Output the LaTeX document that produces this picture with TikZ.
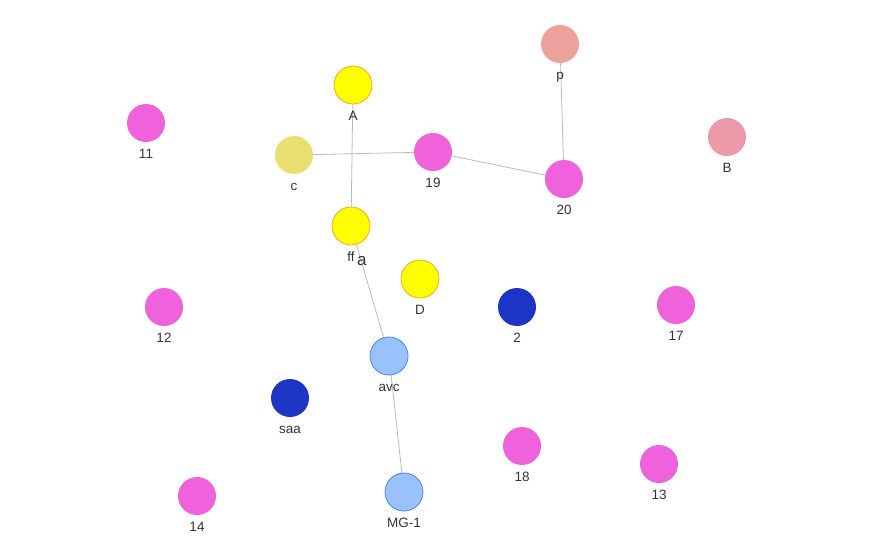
\documentclass[tikz,border=0pt]{standalone}
\usepackage{fontspec}
\setmainfont{Liberation Sans}
\usetikzlibrary{backgrounds}

\definecolor{pinkv}{HTML}{F062DB}
\definecolor{yelv}{HTML}{FFFF00}
\definecolor{yelrim}{HTML}{F5A623}
\definecolor{khakiv}{HTML}{E8DF70}
\definecolor{salmonv}{HTML}{EDA39D}
\definecolor{rosev}{HTML}{EC9AA8}
\definecolor{navyv}{HTML}{1D35C4}
\definecolor{skyv}{HTML}{99C2FA}
\definecolor{skyrim}{HTML}{4A86E8}
\definecolor{txt}{HTML}{333333}
\definecolor{edgev}{HTML}{BBBBBB}

\tikzset{
  vtx/.style={circle, minimum size=38pt, inner sep=0pt},
  lbl/.style={anchor=base, inner sep=0pt, label distance=16pt, text=txt,
              font=\fontsize{13.5}{13.5}\selectfont},
  pinkvtx/.style={vtx, fill=pinkv},
  yelvtx/.style={vtx, fill=yelv, draw=yelrim, line width=0.8pt},
  skyvtx/.style={vtx, fill=skyv, draw=skyrim, line width=0.8pt},
  navyvtx/.style={vtx, fill=navyv},
  link/.style={draw=edgev, line width=0.8pt}
}

\begin{document}
\begin{tikzpicture}[x=1pt, y=-1pt]
    \useasboundingbox (0,0) rectangle (874,557);

    % Top row
    \node[yelvtx, label={[lbl]below:A}] (A) at (353,85) {};
    \node[vtx, fill=salmonv, label={[lbl]below:p}] (p) at (560,44) {};
    \node[pinkvtx, label={[lbl]below:11}] (n11) at (146,123) {};
    \node[vtx, fill=rosev, label={[lbl]below:B}] (B) at (727,137) {};
    \node[vtx, fill=khakiv, label={[lbl]below:c}] (c) at (294,155) {};
    \node[pinkvtx, label={[lbl]below:19}] (n19) at (433,152) {};
    \node[pinkvtx, label={[lbl]below:20}] (n20) at (564,179) {};

    % Middle
    \node[yelvtx, label={[lbl]below:ff},
          label={[lbl, anchor=base west, xshift=6pt, label distance=20pt,
                  font=\fontsize{17}{17}\selectfont]below:a}] (ff) at (351,226) {};
    \node[yelvtx, label={[lbl]below:D}] (D) at (420,279) {};
    \node[navyvtx, label={[lbl]below:2}] (n2) at (517,307) {};
    \node[pinkvtx, label={[lbl]below:12}] (n12) at (164,307) {};
    \node[pinkvtx, label={[lbl]below:17}] (n17) at (676,305) {};
    \node[skyvtx, label={[lbl]below:avc}] (avc) at (389,356) {};
    \node[navyvtx, label={[lbl]below:saa}] (saa) at (290,398) {};

    % Bottom row
    \node[pinkvtx, label={[lbl]below:18}] (n18) at (522,446) {};
    \node[pinkvtx, label={[lbl]below:13}] (n13) at (659,464) {};
    \node[pinkvtx, label={[lbl]below:14}] (n14) at (197,496) {};
    \node[skyvtx, label={[lbl]below:MG-1}] (mg1) at (404,492) {};

    % Links
    \begin{pgfonlayer}{background}
        \draw[link] (A.center) -- (ff.center);
        \draw[link] (c.center) -- (n19.center);
        \draw[link] (n19.center) -- (n20.center);
        \draw[link] (p.center) -- (n20.center);
        \draw[link] (ff.center) -- (avc.center);
        \draw[link] (avc.center) -- (mg1.center);
    \end{pgfonlayer}
\end{tikzpicture}
\end{document}
